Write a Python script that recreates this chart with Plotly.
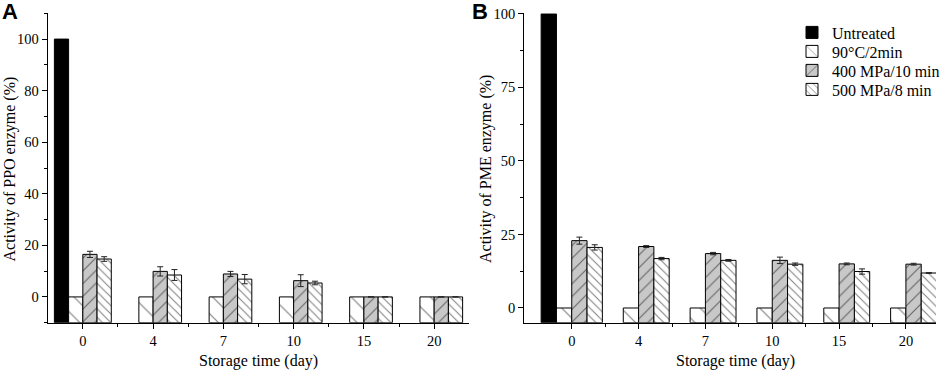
import plotly.graph_objects as go

days = ["0", "4", "7", "10", "15", "20"]
series_names = ["Untreated", "90°C/2min", "400 MPa/10 min", "500 MPa/8 min"]

# Panel A: PPO activity (%)
ppo_untreated = [100, None, None, None, None, None]
ppo_90c = [0, 0, 0, 0, 0, 0]
ppo_400 = [16.5, 9.9, 8.9, 6.3, 0, 0]
ppo_400_err = [1.2, 1.8, 1.0, 2.3, 0, 0]
ppo_500 = [14.7, 8.5, 6.9, 5.4, 0, 0]
ppo_500_err = [0.9, 2.1, 1.8, 0.7, 0, 0]

# Panel B: PME activity (%)
pme_untreated = [100, None, None, None, None, None]
pme_90c = [0, 0, 0, 0, 0, 0]
pme_400 = [22.9, 20.9, 18.5, 16.2, 15.0, 14.9]
pme_400_err = [1.2, 0.3, 0.4, 1.1, 0.3, 0.3]
pme_500 = [20.6, 16.8, 16.2, 14.9, 12.4, 11.9]
pme_500_err = [0.9, 0.4, 0.3, 0.4, 0.9, 0.1]

SERIF = "Liberation Serif"
xpos = list(range(len(days)))
xbounds = [i + 0.5 for i in xpos[:-1]]

fig = go.Figure()

styles = [
    dict(color="black", pattern=None),
    dict(color="white", pattern=dict(shape="\\", size=14, solidity=0.08, fgcolor="black", bgcolor="white", fillmode="overlay")),
    dict(color="#c8c8c8", pattern=dict(shape="/", size=9, solidity=0.12, fgcolor="black", bgcolor="#c8c8c8", fillmode="overlay")),
    dict(color="white", pattern=dict(shape="\\", size=6, solidity=0.17, fgcolor="black", bgcolor="white", fillmode="overlay")),
]
legend_ids = ["legend", "legend2", "legend3", "legend4"]


def add_panel(vals, errs, xa, ya, base, width, offsets, showlegend):
    for i, (name, v) in enumerate(zip(series_names, vals)):
        st = styles[i]
        e = errs[i]
        heights = [None if val is None else val - base for val in v]
        marker = dict(color=st["color"], line=dict(color="black", width=1))
        if st["pattern"] is not None:
            marker["pattern"] = st["pattern"]
        kw = {}
        if e is not None:
            kw["error_y"] = dict(type="data", array=e, visible=True, color="#222222",
                                 thickness=1, width=3)
        fig.add_trace(go.Bar(
            x=xpos, y=heights, base=base, name=name, marker=marker,
            width=width, offset=offsets[i], xaxis=xa, yaxis=ya,
            showlegend=showlegend, legend=legend_ids[i], **kw))


wa = 0.2025
add_panel([ppo_untreated, ppo_90c, ppo_400, ppo_500],
          [None, None, ppo_400_err, ppo_500_err],
          "x", "y", -10, wa, [-2 * wa, -wa, 0, wa], False)
wb = 0.229
add_panel([pme_untreated, pme_90c, pme_400, pme_500],
          [None, None, pme_400_err, pme_500_err],
          "x2", "y2", -5, wb, [-2 * wb, -wb, 0, wb], True)

H = 371
W = 948
ydom = [1 - 322.7 / H, 1 - 13.3 / H]

axis_common = dict(showline=True, linecolor="black", linewidth=1.3, ticks="outside",
                   ticklen=5, tickwidth=1, tickcolor="black", showgrid=False, zeroline=False,
                   automargin=False,
                   tickfont=dict(family=SERIF, size=14.5, color="black"))

xminor = dict(tickmode="array", tickvals=xbounds, ticks="outside", ticklen=3, tickcolor="black", showgrid=False)

legend_tops = [15.5, 34.5, 53.5, 72.5]
legend_layouts = {}
for lid, top in zip(legend_ids, legend_tops):
    legend_layouts[lid] = dict(x=792 / W, y=1 - top / H, xanchor="left", yanchor="top",
                               font=dict(family=SERIF, size=16, color="black"),
                               bgcolor="rgba(0,0,0,0)", borderwidth=0)

title_font = dict(family=SERIF, size=16, color="black")

fig.update_layout(
    width=W, height=H, margin=dict(l=0, r=0, t=0, b=0, autoexpand=False),
    paper_bgcolor="white", plot_bgcolor="white", barmode="overlay",
    showlegend=True,
    xaxis=dict(domain=[47.7 / W, 469.3 / W], range=[-0.5, 5.5], tickmode="array",
               tickvals=xpos, ticktext=days, minor=xminor, anchor="y", **axis_common),
    yaxis=dict(domain=ydom, range=[-10, 110], tickmode="linear", tick0=0, dtick=20,
               minor=dict(dtick=10, ticks="outside", ticklen=3, tickcolor="black", showgrid=False),
               anchor="x", **axis_common),
    xaxis2=dict(domain=[524.3 / W, 936 / W], range=[-0.71, 5.45], tickmode="array",
                tickvals=xpos, ticktext=days, minor=xminor, anchor="y2", **axis_common),
    yaxis2=dict(domain=ydom, range=[-5, 100.2], tickmode="linear", tick0=0, dtick=25,
                minor=dict(dtick=12.5, ticks="outside", ticklen=3, tickcolor="black", showgrid=False),
                anchor="x2", **axis_common),
    annotations=[
        dict(text="<b>A</b>", x=0, y=1, xref="paper", yref="paper", xanchor="left", yanchor="top",
             showarrow=False, font=dict(family="Liberation Sans", size=22, color="black"),
             xshift=0, yshift=3),
        dict(text="<b>B</b>", x=470 / W, y=1, xref="paper", yref="paper", xanchor="left", yanchor="top",
             showarrow=False, font=dict(family="Liberation Sans", size=22, color="black"),
             xshift=0, yshift=3),
        dict(text="Activity of PPO enzyme (%)", x=9.5 / W, y=1 - 169 / H, xref="paper", yref="paper",
             xanchor="center", yanchor="middle",
             textangle=-90, showarrow=False, font=title_font),
        dict(text="Activity of PME enzyme (%)", x=486 / W, y=1 - 169 / H, xref="paper", yref="paper",
             xanchor="center", yanchor="middle",
             textangle=-90, showarrow=False, font=title_font),
        dict(text="Storage time (day)", x=258 / W, y=1 - 361 / H, xref="paper", yref="paper",
             xanchor="center", yanchor="middle", showarrow=False, font=title_font),
        dict(text="Storage time (day)", x=735 / W, y=1 - 361 / H, xref="paper", yref="paper",
             xanchor="center", yanchor="middle", showarrow=False, font=title_font),
    ],
    **legend_layouts,
)

fig.write_html("out.html", config={"displayModeBar": False},
               post_script="document.body.style.margin='0';")
